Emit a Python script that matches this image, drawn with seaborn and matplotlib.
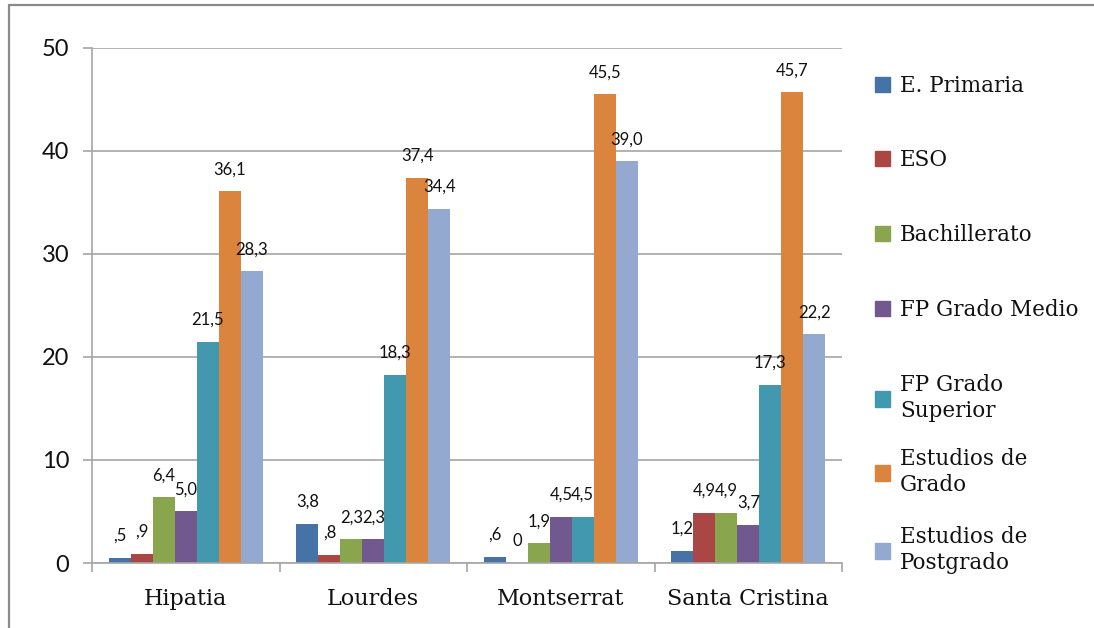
import matplotlib
matplotlib.use("Agg")
import matplotlib.pyplot as plt
import matplotlib.patches as mpatches
import matplotlib.lines as mlines
import seaborn as sns
import pandas as pd

# data
centros = ["Hipatia", "Lourdes", "Montserrat", "Santa Cristina"]
niveles = ["E. Primaria", "ESO", "Bachillerato", "FP Grado Medio",
           "FP Grado\nSuperior", "Estudios de\nGrado", "Estudios de\nPostgrado"]
e_primaria = [0.5, 3.8, 0.6, 1.2]
eso = [0.9, 0.8, 0.0, 4.9]
bachillerato = [6.4, 2.3, 1.9, 4.9]
fp_medio = [5.0, 2.3, 4.5, 3.7]
fp_superior = [21.5, 18.3, 4.5, 17.3]
grado = [36.1, 37.4, 45.5, 45.7]
postgrado = [28.3, 34.4, 39.0, 22.2]
series = [e_primaria, eso, bachillerato, fp_medio, fp_superior, grado, postgrado]
colores = ["#4572A7", "#AA4643", "#89A54E", "#71588F", "#4198AF", "#DB843D", "#93A9CF"]

rows = []
for nivel, vals in zip(niveles, series):
    for c, v in zip(centros, vals):
        rows.append({"centro": c, "nivel": nivel, "valor": v})
df = pd.DataFrame(rows)


def etiqueta(v):
    if v == 0:
        return "0"
    s = f"{v:.1f}".replace(".", ",")
    if s.startswith("0,"):
        s = s[1:]
    return s


sns.set_style("white")
plt.rcParams["font.family"] = ["Lato", "DejaVu Sans"]

fig = plt.figure(figsize=(10.94, 6.28), dpi=100)
ax = fig.add_axes([0.0841, 0.1035, 0.6856, 0.8201])

sns.barplot(data=df, x="centro", y="valor", hue="nivel", hue_order=niveles,
            order=centros, palette=colores, width=0.82, saturation=1,
            linewidth=0, legend=False, ax=ax)

for cont, vals in zip(ax.containers, series):
    ax.bar_label(cont, labels=[etiqueta(v) for v in vals], padding=10,
                 fontsize=12, color="#111111")

ax.set_ylim(0, 50)
ax.set_xlim(-0.5, 3.5)
ax.set_yticks(range(0, 51, 10))
ax.set_xlabel("")
ax.set_ylabel("")
ax.grid(axis="y", color="#A6A6A6", lw=1.2)
ax.set_axisbelow(True)
for s in ["top", "right"]:
    ax.spines[s].set_visible(False)
for s in ["left", "bottom"]:
    ax.spines[s].set_color("#A6A6A6")
    ax.spines[s].set_linewidth(1.2)

ax.tick_params(axis="y", length=6.5, width=1.2, color="#A6A6A6", pad=10,
               labelsize=17, labelcolor="#111111", left=True)
ax.tick_params(axis="x", which="major", length=0, pad=18)
for lab in ax.get_xticklabels():
    lab.set_fontfamily("DejaVu Serif")
    lab.set_fontsize(16)
    lab.set_color("#111111")
ax.set_xticks([-0.5, 0.5, 1.5, 2.5, 3.5], minor=True)
ax.tick_params(axis="x", which="minor", length=6.5, width=1.2, color="#A6A6A6",
               bottom=True)

# legend, one entry at a time to match the uneven spacing
ypos = [86, 160, 235, 310, 398, 472, 550]
for nivel, col, yp in zip(niveles, colores, ypos):
    h = mpatches.Patch(color=col)
    leg = fig.legend(handles=[h], labels=[nivel], loc="center left",
                     bbox_to_anchor=(875 / 1094, 1 - yp / 628), frameon=False,
                     prop={"family": "DejaVu Serif", "size": 15.5},
                     handlelength=0.7, handleheight=0.7, handletextpad=0.45,
                     borderpad=0, borderaxespad=0)
    for t in leg.get_texts():
        t.set_color("#111111")

# outer frame of the chart (left and top edges only are visible)
fx, fy = 8.5 / 1094, 1 - 5 / 628
fig.add_artist(mlines.Line2D([fx, fx], [0, fy], transform=fig.transFigure,
                             color="#8A8A8A", lw=1.6))
fig.add_artist(mlines.Line2D([fx, 1], [fy, fy], transform=fig.transFigure,
                             color="#8A8A8A", lw=1.6))

fig.savefig("out.png", dpi=100)
